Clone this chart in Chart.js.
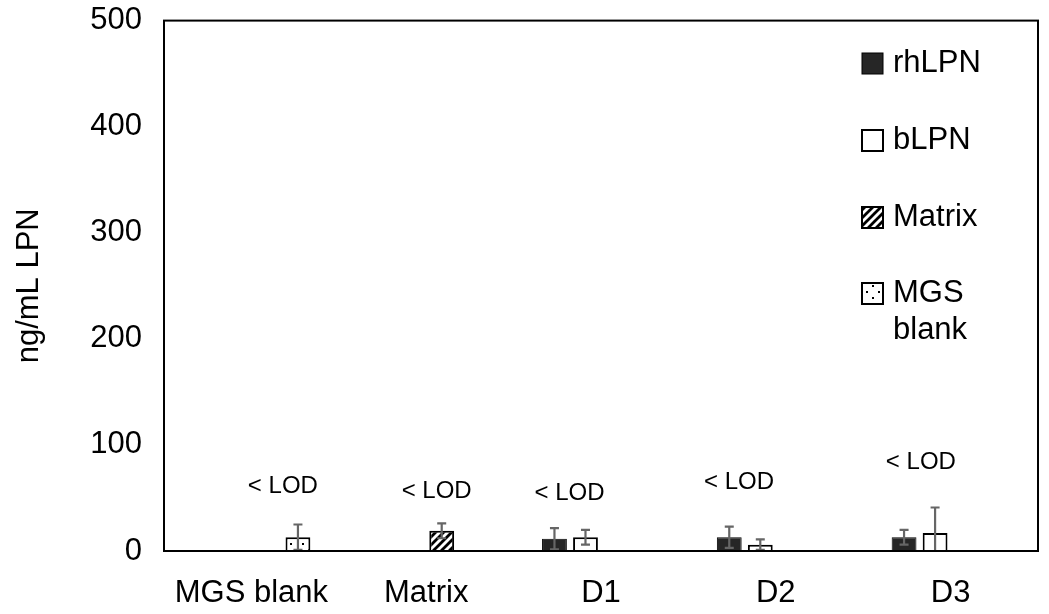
<!DOCTYPE html>
<html>
<head>
<meta charset="utf-8">
<script src="https://cdn.jsdelivr.net/npm/chart.js@4"></script>
<style>
  html, body { margin: 0; padding: 0; background: #fff; }
  #wrap { width: 1049px; height: 614px; }
</style>
</head>
<body>
<div id="wrap"><canvas id="lpnChart"></canvas></div>
<script>
// data
var categories = ["MGS blank", "Matrix", "D1", "D2", "D3"];
var seriesNames = ["rhLPN", "bLPN", "Matrix", "MGS blank"];

var rhLPN    = [null, null, 11.5, 13, 13];
var bLPN     = [null, null, 13, 6, 17];
var matrix   = [null, 19, null, null, null];
var mgsBlank = [13, null, null, null, null];

var rhLPNErr    = [null, null, 10, 10, 7];
var bLPNErr     = [null, null, 7, 5, 24];
var matrixErr   = [null, 7, null, null, null];
var mgsBlankErr = [12, null, null, null, null];

var yTicks = [0, 100, 200, 300, 400, 500];

// "< LOD" notes (category index + offset, value on y axis)
var lodText = "< LOD";
var lodX = [0.18, 1.06, 1.82, 2.79, 3.83];
var lodY = [61, 56, 54, 65, 84];

var FONT = '"Liberation Sans", Arial, Helvetica, sans-serif';
Chart.defaults.font.family = FONT;
Chart.defaults.color = "#000";

var canvasElement = document.getElementById("lpnChart");
var ctx0 = canvasElement.getContext("2d");

function hatchPattern() {
    var c = document.createElement("canvas");
    c.width = 8; c.height = 8;
    var g = c.getContext("2d");
    g.fillStyle = "#fff";
    g.fillRect(0, 0, 8, 8);
    g.strokeStyle = "#000";
    g.lineWidth = 2.8;
    g.beginPath();
    g.moveTo(-2, 10); g.lineTo(10, -2);
    g.moveTo(-2, 2); g.lineTo(2, -2);
    g.moveTo(6, 10); g.lineTo(10, 6);
    g.stroke();
    return ctx0.createPattern(c, "repeat");
}

function dotPattern() {
    var c = document.createElement("canvas");
    c.width = 12; c.height = 12;
    var g = c.getContext("2d");
    g.fillStyle = "#fff";
    g.fillRect(0, 0, 12, 12);
    g.fillStyle = "#000";
    g.fillRect(2, 3, 2, 2);
    g.fillRect(8, 9, 2, 2);
    return ctx0.createPattern(c, "repeat");
}

var fills = ["#262626", "#ffffff", hatchPattern(), dotPattern()];

var errorBars = {
    id: "errorBars",
    afterDatasetsDraw: function(chart) {
        var ctx = chart.ctx, ys = chart.scales.y, area = chart.chartArea;
        ctx.save();
        ctx.strokeStyle = "#666";
        ctx.lineWidth = 2.2;
        chart.data.datasets.forEach(function(ds, di) {
            var meta = chart.getDatasetMeta(di);
            ds.errors.forEach(function(e, i) {
                if (e == null || ds.data[i] == null) return;
                var x = meta.data[i].x;
                var top = ys.getPixelForValue(ds.data[i] + e);
                var low = ys.getPixelForValue(ds.data[i] - e);
                var clipped = low > area.bottom;
                if (clipped) low = area.bottom + 1;
                ctx.beginPath();
                ctx.moveTo(x, top); ctx.lineTo(x, low);
                ctx.moveTo(x - 4.5, top); ctx.lineTo(x + 4.5, top);
                if (!clipped) { ctx.moveTo(x - 4.5, low); ctx.lineTo(x + 4.5, low); }
                ctx.stroke();
            });
        });
        ctx.restore();
    }
};

var lodNotes = {
    id: "lodNotes",
    afterDraw: function(chart) {
        var ctx = chart.ctx, xs = chart.scales.x, ys = chart.scales.y;
        ctx.save();
        ctx.fillStyle = "#000";
        ctx.font = "24px " + FONT;
        ctx.textAlign = "center";
        ctx.textBaseline = "middle";
        lodX.forEach(function(v, i) {
            ctx.fillText(lodText, xs.getPixelForValue(v), ys.getPixelForValue(lodY[i]));
        });
        ctx.restore();
    }
};

var frame = {
    id: "frame",
    afterDraw: function(chart) {
        var a = chart.chartArea, ctx = chart.ctx;
        ctx.save();
        ctx.strokeStyle = "#000";
        ctx.lineWidth = 2;
        ctx.strokeRect(a.left, a.top, a.right - a.left, a.bottom - a.top);
        ctx.restore();
    }
};

var sideLegend = {
    id: "sideLegend",
    afterDraw: function(chart) {
        var ctx = chart.ctx;
        var rows = [63, 140, 217, 293];
        ctx.save();
        ctx.font = "31px " + FONT;
        ctx.textBaseline = "middle";
        ctx.textAlign = "left";
        chart.data.datasets.forEach(function(ds, i) {
            var cy = rows[i];
            ctx.fillStyle = ds.backgroundColor;
            ctx.fillRect(862, cy - 10, 21, 21);
            ctx.strokeStyle = "#000";
            ctx.lineWidth = i === 0 ? 1 : 2;
            ctx.strokeRect(862, cy - 10, 21, 21);
            ctx.fillStyle = "#000";
            var parts = ds.label.split(" ");
            parts.forEach(function(p, k) {
                ctx.fillText(p, 893, cy + k * 37);
            });
        });
        ctx.restore();
    }
};

var values = [rhLPN, bLPN, matrix, mgsBlank];
var errs = [rhLPNErr, bLPNErr, matrixErr, mgsBlankErr];

var config = {
    type: "bar",
    data: {
        labels: categories,
        datasets: seriesNames.map(function(name, i) {
            return {
                label: name,
                data: values[i],
                errors: errs[i],
                backgroundColor: fills[i],
                borderColor: "#000",
                borderWidth: i === 0 ? 1 : 2,
                categoryPercentage: 0.71,
                barPercentage: 0.8
            };
        })
    },
    options: {
        responsive: true,
        maintainAspectRatio: false,
        animation: false,
        layout: { padding: { top: 0, right: 11, bottom: 0, left: 0 } },
        plugins: { legend: { display: false }, tooltip: { enabled: false } },
        scales: {
            x: {
                grid: { display: false, drawTicks: false },
                border: { display: false },
                ticks: { color: "#000", font: { size: 31 }, padding: 24, maxRotation: 0, autoSkip: false },
                afterFit: function(s) { s.height = 63; }
            },
            y: {
                min: yTicks[0],
                max: yTicks[yTicks.length - 1],
                grid: { display: false, drawTicks: true, tickLength: 20 },
                border: { display: false },
                ticks: { stepSize: yTicks[1] - yTicks[0], color: "#000", font: { size: 31 }, padding: 2 },
                title: { display: true, text: "ng/mL LPN", color: "#000", font: { size: 31 }, padding: { top: 11, bottom: 0 } },
                afterFit: function(s) { s.width = 164; }
            }
        }
    },
    plugins: [errorBars, lodNotes, frame, sideLegend]
};

var barChart = new Chart(canvasElement, config);
</script>
</body>
</html>
